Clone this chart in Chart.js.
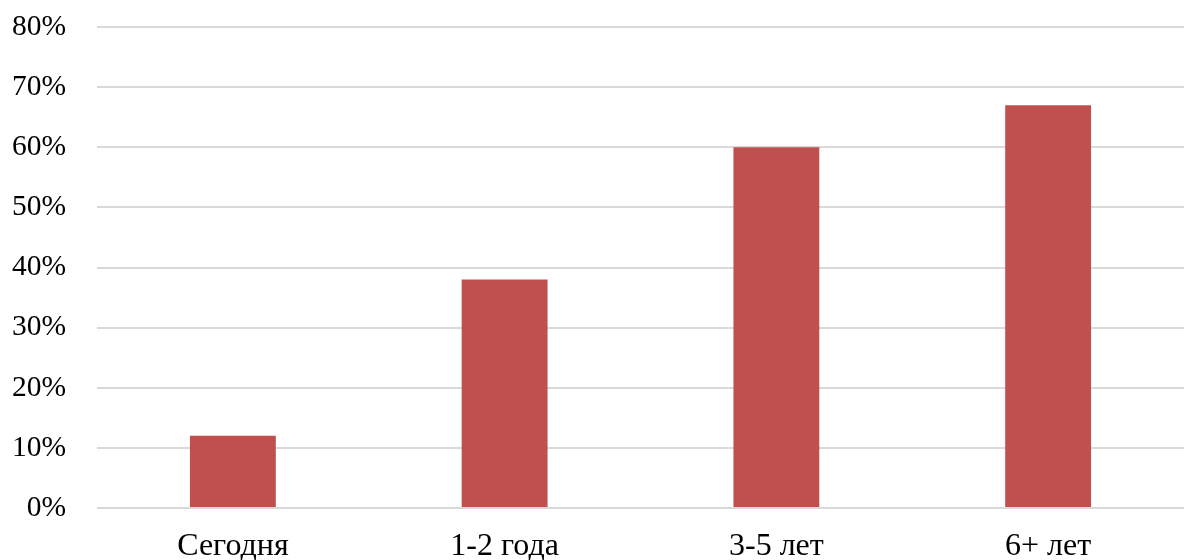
<!DOCTYPE html>
<html>
<head>
<meta charset="utf-8">
<script src="https://cdn.jsdelivr.net/npm/chart.js@4"></script>
<style>
  html, body { margin: 0; padding: 0; background: #fff; }
  #wrap { width: 1184px; height: 560px; }
</style>
</head>
<body>
<div id="wrap"><canvas id="forecastChart" width="1184" height="560"></canvas></div>
<script>
const periods = ['Сегодня', '1-2 года', '3-5 лет', '6+ лет'];
const shares = [12, 38, 60, 67];
const yMax = 80;
const yStep = 10;

const ctx = document.getElementById('forecastChart').getContext('2d');
const forecastChart = new Chart(ctx, {
    type: 'bar',
    data: {
        labels: periods,
        datasets: [{
            label: 'Доля',
            data: shares,
            backgroundColor: '#C0504D',
            borderWidth: 0,
            categoryPercentage: 1,
            barPercentage: 0.316,
        }],
    },
    options: {
        responsive: false,
        animation: false,
        layout: { padding: { top: 27, right: 0, left: 0, bottom: 0 } },
        plugins: {
            legend: { display: false },
            tooltip: { enabled: false },
        },
        scales: {
            x: {
                grid: { display: false, drawTicks: false },
                border: { display: false },
                ticks: {
                    color: '#000',
                    padding: 19,
                    font: { family: 'Liberation Serif', size: 32 },
                },
                afterFit: (axis) => { axis.height = 52; },
            },
            y: {
                min: 0,
                max: yMax,
                grid: { color: '#d9d9d9', lineWidth: 2, drawTicks: false },
                border: { display: false },
                ticks: {
                    stepSize: yStep,
                    color: '#000',
                    padding: 31,
                    font: { family: 'Liberation Serif', size: 29.5 },
                    callback: (v) => v + '%',
                },
                // keep the plot area edges fixed regardless of label size
                afterFit: (axis) => {
                    axis.width = 97;
                    axis.paddingTop = 0;
                    axis.paddingBottom = 0;
                },
            },
        },
    },
});
</script>
</body>
</html>
